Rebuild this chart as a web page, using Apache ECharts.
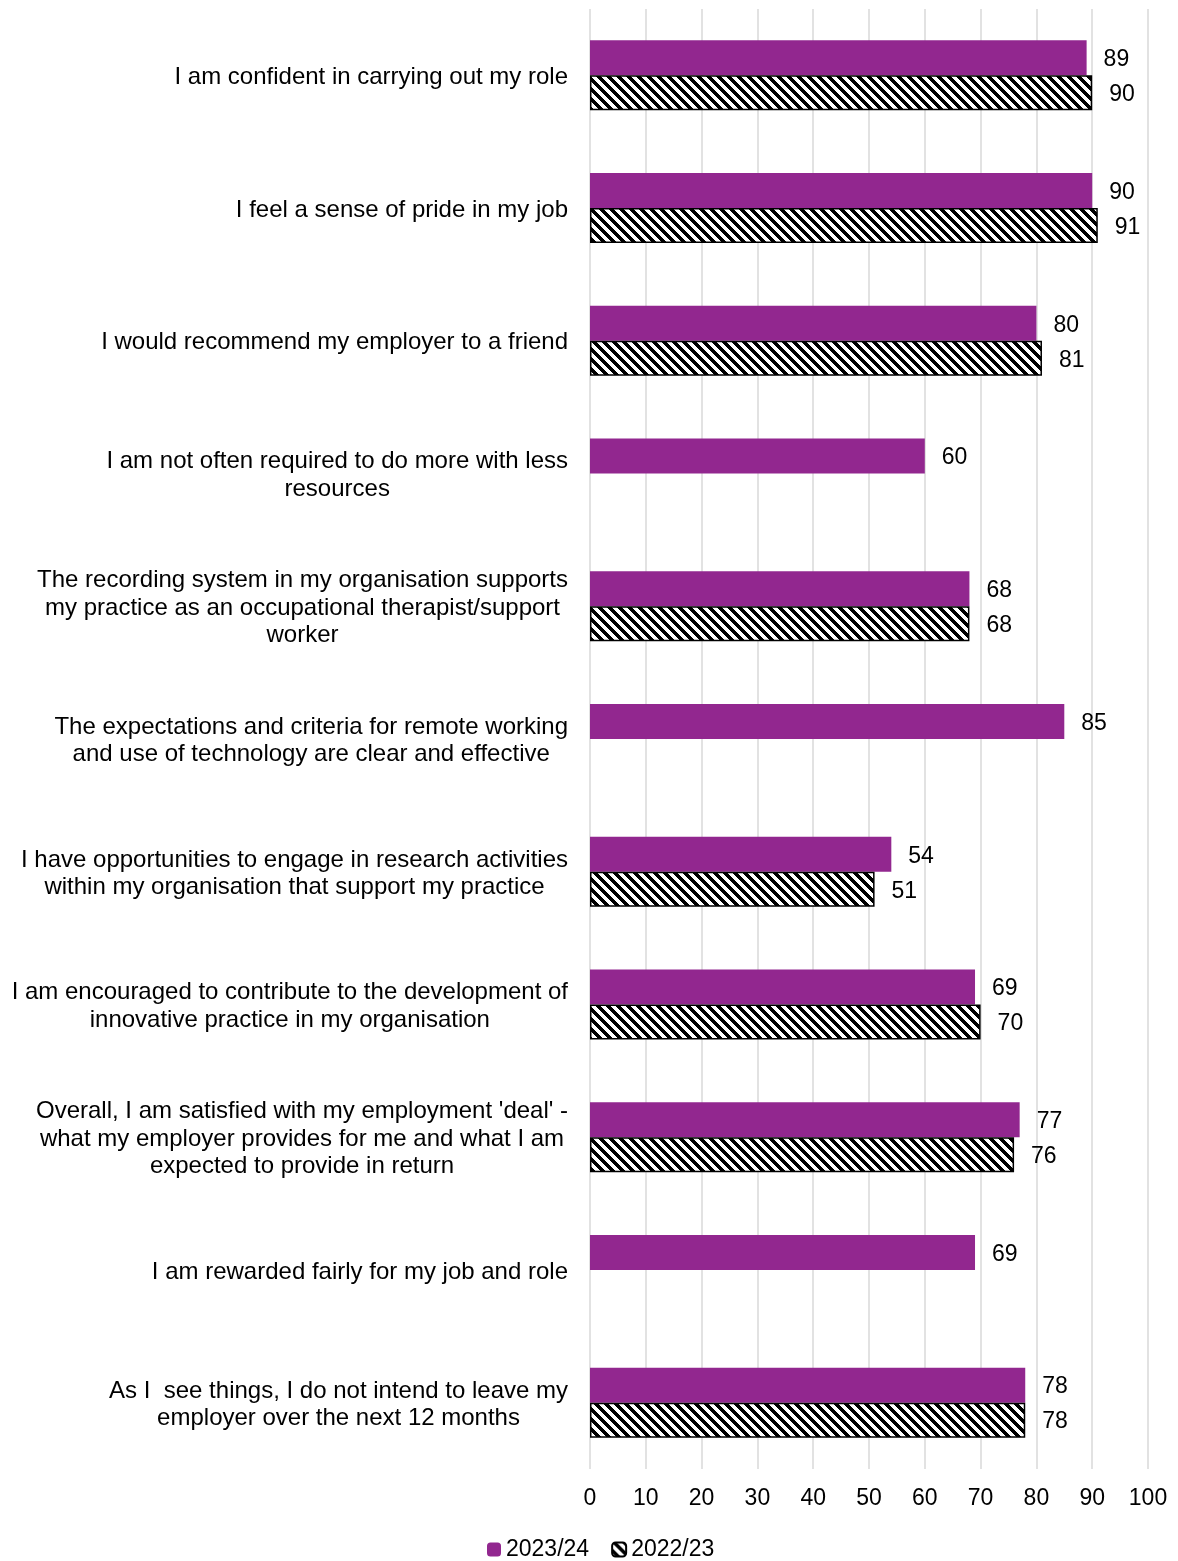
<!DOCTYPE html>
<html>
<head>
<meta charset="utf-8">
<script src="https://cdn.jsdelivr.net/npm/echarts@6/dist/echarts.min.js"></script>
<style>
html,body{margin:0;padding:0;background:#fff;}
#chart{width:1178px;height:1561px;}
</style>
</head>
<body>
<div id="chart"></div>
<script>
const categories = [
  "I am confident in carrying out my role",
  "I feel a sense of pride in my job",
  "I would recommend my employer to a friend",
  "I am not often required to do more with less\nresources",
  "The recording system in my organisation supports\nmy practice as an occupational therapist/support\nworker",
  "The expectations and criteria for remote working\nand use of technology are clear and effective",
  "I have opportunities to engage in research activities\nwithin my organisation that support my practice",
  "I am encouraged to contribute to the development of\ninnovative practice in my organisation",
  "Overall, I am satisfied with my employment 'deal' -\nwhat my employer provides for me and what I am\nexpected to provide in return",
  "I am rewarded fairly for my job and role",
  "As I  see things, I do not intend to leave my\nemployer over the next 12 months"
];
const series2023 = [89, 90, 80, 60, 68, 85, 54, 69, 77, 69, 78];
const series2022 = [90, 91, 81, null, 68, null, 51, 70, 76, null, 78];
const seriesNames = ["2023/24", "2022/23"];
const xTicks = {min: 0, max: 100, interval: 10};

// hatch pattern
const pc = document.createElement('canvas');
const N = 10;
pc.width = N; pc.height = N;
const pctx = pc.getContext('2d');
const img = pctx.createImageData(N, N);
for (let y = 0; y < N; y++) {
  for (let x = 0; x < N; x++) {
    const k = (((x - y) % N) + N) % N;
    const black = k < 5;
    const i = (y * N + x) * 4;
    const v = black ? 0 : 255;
    img.data[i] = v; img.data[i+1] = v; img.data[i+2] = v; img.data[i+3] = 255;
  }
}
pctx.putImageData(img, 0, 0);
const hatch = {image: pc, repeat: 'repeat'};

const FONT = '"Liberation Sans", Arial, sans-serif';
const chart = echarts.init(document.getElementById('chart'), null, {renderer: 'canvas'});
const labelStyle = {show: true, position: 'right', distance: 17, offset: [0, 2], color: '#000', fontSize: 23, fontFamily: FONT};

chart.setOption({
  animation: false,
  backgroundColor: '#fff',
  textStyle: {fontFamily: FONT},
  grid: {left: 590, right: 30, top: 9, bottom: 92, containLabel: false},
  legend: {
    top: 1533, left: 482,
    itemWidth: 14, itemHeight: 14, itemGap: 22,
    textStyle: {fontSize: 23, color: '#000', fontFamily: FONT},
    data: seriesNames
  },
  xAxis: {
    type: 'value', min: xTicks.min, max: xTicks.max, interval: xTicks.interval,
    axisLine: {show: false}, axisTick: {show: false},
    splitLine: {show: true, lineStyle: {color: '#d9d9d9', width: 1.5}},
    axisLabel: {color: '#000', fontSize: 23, fontFamily: FONT, margin: 18}
  },
  yAxis: {
    type: 'category', inverse: true, data: categories,
    axisLine: {show: false}, axisTick: {show: false},
    axisLabel: {
      color: '#000', fontSize: 24, fontFamily: FONT, margin: 22, lineHeight: 27.5,
      align: 'right', padding: [4, 0, 0, 0],
      formatter: function (v) {
        return v.split('\n').map(function (l) { return '{c|' + l + '}'; }).join('\n');
      },
      rich: {c: {align: 'center', fontSize: 24, fontFamily: FONT, color: '#000', lineHeight: 27.5}}
    }
  },
  series: [
    {
      name: seriesNames[0], type: 'bar', data: series2023,
      barWidth: 35, barGap: '0%',
      itemStyle: {color: '#92278F'},
      label: labelStyle
    },
    {
      name: seriesNames[1], type: 'bar', data: series2022,
      barWidth: 35, barGap: '0%',
      itemStyle: {color: hatch, borderColor: '#000', borderWidth: 1.5},
      label: labelStyle
    }
  ]
});
</script>
</body>
</html>
